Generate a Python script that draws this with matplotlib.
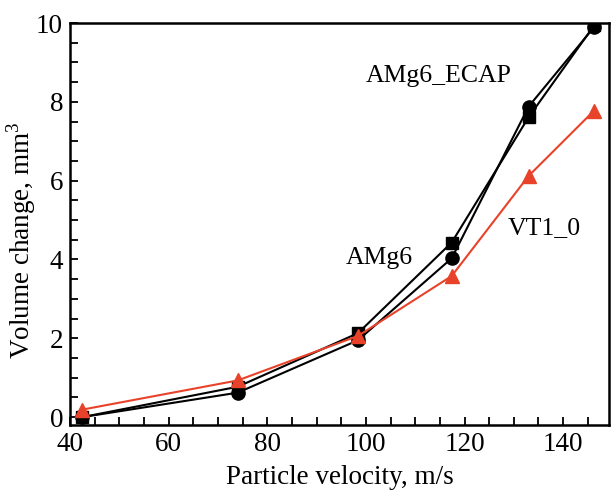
import matplotlib
matplotlib.use("Agg")
import matplotlib.pyplot as plt
from matplotlib.ticker import MultipleLocator, FuncFormatter

plt.rcParams['font.family'] = ['Liberation Serif', 'DejaVu Serif']
plt.rcParams['mathtext.fontset'] = 'custom'
plt.rcParams['mathtext.rm'] = 'Liberation Serif'

# particle velocity, m/s
velocity = [42.5, 74.0, 98.4, 117.4, 133.0, 146.3]

# volume change, mm^3
amg6_ecap = [0.0, 0.77, 2.13, 4.43, 7.61, 9.94]
amg6 = [0.0, 0.62, 1.95, 4.03, 7.88, 9.90]
vt1_0 = [0.19, 0.93, 2.06, 3.58, 6.12, 7.78]

red = "#e8432a"

fig = plt.figure(figsize=(6.11, 4.90), dpi=100)
ax = fig.add_axes([0.1146, 0.1327, 0.8821, 0.8203])

ax.plot(velocity, amg6_ecap, color="black", lw=1.5, marker="s", ms=8.5)
ax.plot(velocity, amg6, color="black", lw=1.5, marker="o", ms=9.5)
ax.plot(velocity, vt1_0, color=red, lw=1.5, marker="^", ms=10)

ax.text(114.7, 8.66, "AMg6_ECAP", fontsize=18.5, ha="center", va="center")
ax.text(102.8, 4.03, "AMg6", fontsize=18.5, ha="center", va="center")
ax.text(136.1, 4.79, "VT1_0", fontsize=18.5, ha="center", va="center")

ax.set_xlim(40, 149.3)
ax.set_ylim(-0.2, 10)

ax.xaxis.set_major_locator(MultipleLocator(20))
ax.xaxis.set_minor_locator(MultipleLocator(5))
ax.yaxis.set_major_locator(MultipleLocator(2))
ax.yaxis.set_minor_locator(MultipleLocator(0.5))
ax.yaxis.set_major_formatter(FuncFormatter(lambda v, p: "%d" % v))

ax.tick_params(which="both", direction="in", top=False, right=False,
               width=1.3, labelsize=19.5)
ax.tick_params(which="major", length=6, pad=5)
ax.tick_params(which="minor", length=6)

for s in ax.spines.values():
    s.set_linewidth(1.8)

ax.set_xlabel("Particle velocity, m/s", fontsize=19.5, labelpad=6)
ax.set_ylabel("Volume change, mm$^{3}$", fontsize=19.5)
ax.yaxis.set_label_coords(-0.06, 0.46)

fig.savefig("out.png", dpi=100)
